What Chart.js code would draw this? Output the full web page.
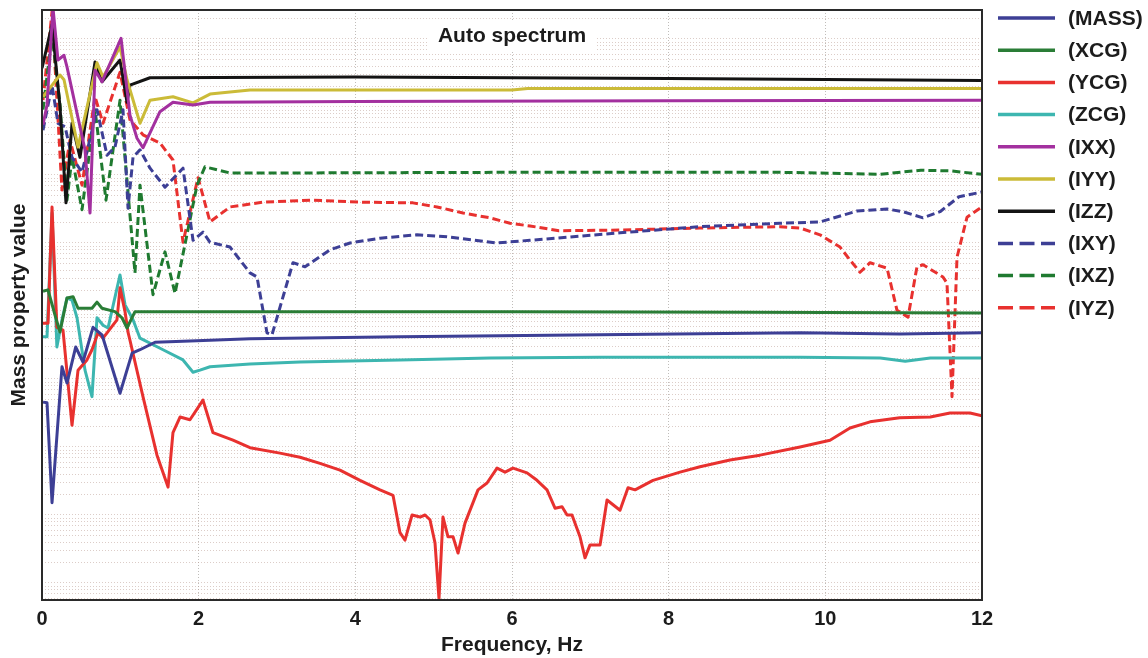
<!DOCTYPE html>
<html>
<head>
<meta charset="utf-8">
<script src="https://cdn.jsdelivr.net/npm/chart.js@4/dist/chart.umd.min.js"></script>
<style>
  html, body { margin: 0; padding: 0; background: #ffffff; }
  #wrap { width: 1148px; height: 658px; position: relative; }
</style>
</head>
<body>
<div id="wrap"><canvas id="c" width="1148" height="658"></canvas></div>
<script>
// Frequency ticks (Hz)
const freqTicks = [0, 2, 4, 6, 8, 10, 12];
const chartTitle = 'Auto spectrum';
const seriesNames = ['(MASS)', '(XCG)', '(YCG)', '(ZCG)', '(IXX)', '(IYY)', '(IZZ)', '(IXY)', '(IXZ)', '(IYZ)'];

// Values: [frequency Hz, level in dB (10·log10, decade = 10)]
const mass = [[0.013,26.6],[0.064,26.5],[0.128,11.8],[0.255,31.8],[0.319,29.4],[0.43,34.7],[0.523,32.5],[0.651,37.6],[0.766,36.5],[0.996,27.9],[1.15,33.8],[1.251,34.3],[1.443,35.4],[1.889,35.6],[2.655,35.9],[4.57,36.2],[7.12,36.5],[9.68,36.8],[10.95,36.6],[12,36.8]];
const xcg = [[0.013,42.9],[0.077,43.1],[0.166,39.4],[0.23,36.9],[0.319,41.9],[0.396,42.1],[0.46,40.4],[0.638,40.4],[0.702,41.3],[0.766,40.4],[0.932,39.9],[1.021,39.0],[1.085,37.5],[1.187,39.9],[2.5,39.9],[6,39.9],[9,39.8],[12,39.7]];
const ycg = [[0.013,38.2],[0.077,38.2],[0.128,55.3],[0.19,37.6],[0.268,37.2],[0.383,23.2],[0.46,31.3],[0.574,32.8],[0.638,34.3],[0.715,36.8],[0.779,36.0],[0.957,38.7],[0.996,43.4],[1.06,39.9],[1.098,36.9],[1.123,35.7],[1.289,27.4],[1.468,18.8],[1.609,14.1],[1.672,22.1],[1.762,24.4],[1.889,24.0],[2.055,26.9],[2.183,22.1],[2.438,21.0],[2.655,19.9],[3.038,19.1],[3.294,18.5],[3.549,17.6],[3.804,16.6],[4.06,15.1],[4.315,13.7],[4.481,12.9],[4.57,7.4],[4.634,6.3],[4.724,10.0],[4.826,9.7],[4.89,10.0],[4.953,9.3],[5.017,5.9],[5.068,-2.3],[5.119,9.7],[5.183,6.8],[5.247,6.8],[5.311,4.4],[5.4,8.8],[5.566,13.7],[5.681,14.7],[5.809,16.9],[5.911,16.3],[6.013,16.9],[6.192,16.2],[6.319,15.1],[6.447,13.7],[6.549,11.0],[6.639,11.2],[6.703,10.0],[6.766,10.0],[6.868,6.8],[6.932,3.7],[6.996,5.6],[7.124,5.6],[7.213,12.2],[7.379,10.7],[7.481,14.0],[7.571,13.7],[7.8,15.1],[8.145,16.3],[8.4,17.1],[8.783,18.1],[9.166,18.8],[9.677,20.0],[10.06,21.0],[10.315,22.8],[10.571,23.7],[10.95,24.3],[11.34,24.4],[11.592,25.0],[11.847,25.0],[12,24.6]];
const zcg = [[0.013,36.2],[0.064,36.2],[0.128,54.4],[0.19,34.7],[0.255,38.7],[0.319,41.9],[0.383,41.6],[0.447,39.0],[0.549,31.3],[0.638,27.4],[0.702,39.0],[0.779,37.9],[0.843,37.5],[0.996,45.3],[1.06,40.9],[1.162,38.7],[1.251,36.0],[1.545,34.3],[1.8,32.8],[1.928,31.0],[2.017,31.3],[2.145,31.8],[2.655,32.2],[3.294,32.5],[4.57,32.8],[5.72,33.1],[7.12,33.2],[9.68,33.2],[10.7,33.1],[11.02,32.6],[11.34,33.1],[12,33.1]];
const ixx = [[0.013,67.4],[0.064,70.3],[0.14,84.6],[0.204,76.9],[0.281,77.6],[0.319,75.9],[0.447,69.1],[0.549,63.7],[0.613,54.4],[0.677,75.4],[0.766,73.7],[1.009,80.1],[1.123,68.8],[1.213,65.4],[1.289,64.0],[1.506,69.3],[1.672,70.7],[1.928,70.3],[2.145,70.7],[4,70.8],[8,70.9],[12,71.0]];
const iyy = [[0.013,71.5],[0.23,74.7],[0.281,74.0],[0.46,64.1],[0.702,76.5],[0.779,74.4],[0.996,78.8],[1.085,74.0],[1.251,67.6],[1.379,71.0],[1.672,71.5],[1.928,70.6],[2.145,71.9],[2.655,72.5],[6,72.5],[6.2,72.7],[12,72.7]];
const izz = [[0.0,75.7],[0.128,82.1],[0.23,70.0],[0.306,55.9],[0.383,67.6],[0.485,62.6],[0.677,76.6],[0.766,73.7],[0.996,76.9],[1.085,70.7],[1.123,73.2],[1.379,74.3],[4,74.4],[8,74.2],[12,73.9]];
const ixy = [[0.013,66.6],[0.128,73.2],[0.204,67.6],[0.294,67.1],[0.383,62.6],[0.511,60.4],[0.702,69.6],[0.83,62.9],[0.932,64.1],[1.034,69.6],[1.098,55.1],[1.162,62.6],[1.251,63.7],[1.379,61.0],[1.57,58.2],[1.8,61.0],[1.928,50.4],[2.055,51.6],[2.145,50.1],[2.4,49.4],[2.655,45.6],[2.745,45.0],[2.872,36.8],[2.936,36.5],[3.204,47.1],[3.358,46.5],[3.677,49.0],[3.932,50.0],[4.315,50.7],[4.787,51.2],[5.17,50.9],[5.809,50.0],[6.23,50.4],[7.38,51.5],[8.4,52.4],[9.422,52.9],[9.932,53.1],[10.405,54.7],[10.788,55.0],[10.992,54.6],[11.247,53.7],[11.464,54.6],[11.707,56.8],[12,57.5]];
const ixz = [[0.013,69.6],[0.128,80.6],[0.23,70.3],[0.319,56.3],[0.383,62.6],[0.511,54.9],[0.677,69.6],[0.817,56.3],[0.996,71.0],[1.187,45.6],[1.251,58.5],[1.417,42.4],[1.57,48.7],[1.698,42.6],[1.979,58.5],[2.08,61.2],[2.4,60.3],[3.3,60.3],[6.23,60.4],[9.4,60.4],[10.7,60.1],[11.22,60.7],[11.6,60.6],[12,60.1]];
const iyz = [[0.013,71.0],[0.128,84.0],[0.255,57.8],[0.357,65.1],[0.511,58.5],[0.677,71.5],[0.779,67.6],[0.996,75.1],[1.123,68.1],[1.289,65.9],[1.506,64.7],[1.672,62.2],[1.8,50.1],[1.992,59.6],[2.145,53.1],[2.4,55.3],[2.821,56.0],[3.46,56.3],[4.098,56.0],[4.736,55.9],[5.043,55.3],[5.375,54.4],[5.719,53.7],[5.975,52.9],[6.23,52.5],[6.6,51.8],[7.38,51.9],[8.4,52.2],[9.422,52.4],[9.677,52.2],[9.932,51.2],[10.188,49.4],[10.315,47.5],[10.443,45.7],[10.571,47.1],[10.788,46.3],[10.915,40.1],[11.056,39.1],[11.17,46.5],[11.247,46.8],[11.502,45.0],[11.553,44.1],[11.617,27.4],[11.681,47.9],[11.809,53.8],[12,55.3]];

const seriesData = [mass, xcg, ycg, zcg, ixx, iyy, izz, ixy, ixz, iyz];
const seriesColors = ['#3d3f95', '#2a7d36', '#e8312f', '#3db6b0', '#a3309f', '#cbbb38', '#141414', '#3d3f95', '#1f7a30', '#e8312f'];
const seriesDashed = [false, false, false, false, false, false, false, true, true, true];

// y range (dB) and log-style grid (decades with 2..9 subdivisions)
const yMin = -2.5, yMax = 84.26;
const gridValues = [];
for (let n = -1; n <= 8; n++) {
  for (let k = 1; k <= 9; k++) {
    const v = 10 * n + 10 * Math.log10(k);
    if (v >= yMin && v <= yMax) gridValues.push(v);
  }
}

const FONT = "'Liberation Sans', Arial, Helvetica, sans-serif";
const TEXT = '#1c1c1c';

const datasets = seriesData.map((d, i) => ({
  label: seriesNames[i],
  data: d,
  borderColor: seriesColors[i],
  backgroundColor: seriesColors[i],
  borderWidth: 3,
  borderDash: seriesDashed[i] ? [8, 4] : [],
  borderJoinStyle: 'round',
  pointRadius: 0,
  tension: 0,
  fill: false
}));

const decorPlugin = {
  id: 'decor',
  beforeDatasetsDraw(chart) {
    const ctx = chart.ctx;
    const xs = chart.scales.x;
    const cx = (xs.left + xs.right) / 2;
    ctx.save();
    ctx.font = "bold 21px " + FONT;
    const w = ctx.measureText(chartTitle).width;
    ctx.fillStyle = '#ffffff';
    ctx.fillRect(cx - w / 2 - 10, chart.chartArea.top + 10, w + 20, 30);
    ctx.fillStyle = TEXT;
    ctx.textAlign = 'center';
    ctx.textBaseline = 'alphabetic';
    ctx.fillText(chartTitle, cx, chart.chartArea.top + 32);
    ctx.restore();
  },
  afterDatasetsDraw(chart) {
    const ctx = chart.ctx;
    const a = chart.chartArea;
    ctx.save();
    ctx.strokeStyle = '#2a2a2a';
    ctx.lineWidth = 2;
    ctx.setLineDash([]);
    ctx.strokeRect(a.left, a.top, a.right - a.left, a.bottom - a.top);
    // legend
    const x0 = a.right + 16, x1 = a.right + 73, tx = a.right + 86;
    ctx.font = "bold 21px " + FONT;
    ctx.textAlign = 'left';
    ctx.textBaseline = 'middle';
    chart.data.datasets.forEach((ds, i) => {
      const y = a.top + 8 + i * 32.2;
      ctx.strokeStyle = ds.borderColor;
      ctx.lineWidth = 3.5;
      ctx.setLineDash(seriesDashed[i] ? [15, 6.5] : []);
      ctx.beginPath();
      ctx.moveTo(x0, y);
      ctx.lineTo(x1, y);
      ctx.stroke();
      ctx.setLineDash([]);
      ctx.fillStyle = TEXT;
      ctx.fillText(ds.label, tx, y + 1);
    });
    ctx.restore();
  }
};

new Chart(document.getElementById('c'), {
  type: 'line',
  data: { datasets },
  options: {
    responsive: false,
    animation: false,
    devicePixelRatio: 1,
    layout: { padding: { top: 10, right: 166, left: 0, bottom: 0 } },
    plugins: { legend: { display: false }, tooltip: { enabled: false }, title: { display: false } },
    scales: {
      x: {
        type: 'linear',
        min: 0, max: 12,
        afterBuildTicks: (s) => { s.ticks = freqTicks.map(v => ({ value: v })); },
        afterFit: (s) => { s.height = 58; },
        ticks: {
          padding: 7,
          color: TEXT,
          font: { family: FONT, size: 20, weight: 'bold' },
          callback: (v) => String(v),
          maxRotation: 0
        },
        grid: { color: 'rgba(150,145,140,0.6)', lineWidth: 1, drawTicks: false },
        border: { display: false, dash: [1, 2] },
        title: { display: true, text: 'Frequency, Hz', color: TEXT, font: { family: FONT, size: 21, weight: 'bold' }, padding: { top: 0, bottom: 0 } }
      },
      y: {
        type: 'linear',
        min: yMin, max: yMax,
        afterBuildTicks: (s) => { s.ticks = gridValues.map(v => ({ value: v })); },
        afterFit: (s) => { s.width = 42; },
        ticks: { display: false },
        grid: { color: 'rgba(185,155,145,0.5)', lineWidth: 1, drawTicks: false },
        border: { display: false, dash: [1, 2] },
        title: { display: true, text: 'Mass property value', color: TEXT, font: { family: FONT, size: 21, weight: 'bold' }, padding: { top: 7, bottom: 0 } }
      }
    }
  },
  plugins: [decorPlugin]
});
</script>
</body>
</html>
